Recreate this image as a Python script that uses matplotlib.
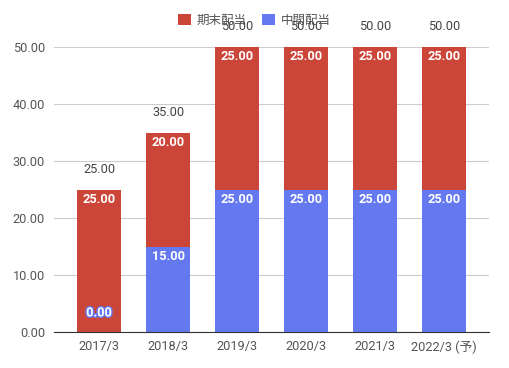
import matplotlib.pyplot as plt
import matplotlib.patheffects as pe
import numpy as np

plt.rcParams['font.family'] = ['Roboto', 'Noto Sans CJK JP', 'DejaVu Sans']

categories = ['2017/3', '2018/3', '2019/3', '2020/3', '2021/3', '2022/3 (予)']
interim = [0, 15, 25, 25, 25, 25]     # 中間配当
year_end = [25, 20, 25, 25, 25, 25]   # 期末配当

red = '#cc4539'
blue = '#6479ef'
gray = '#555555'

fig = plt.figure(figsize=(5.09, 3.68), dpi=100)
ax = fig.add_axes([53.5 / 509, 36 / 368, 436 / 509, 285 / 368])

x = np.arange(len(categories))
totals = [a + b for a, b in zip(interim, year_end)]
w = 0.64
ax.bar(x, interim, width=w, color=blue, label='中間配当', zorder=2)
ax.bar(x, year_end, width=w, bottom=interim, color=red, label='期末配当', zorder=2)

fs = 9.2
for i in range(len(x)):
    # 中間配当 label
    if interim[i] == 0:
        ax.annotate('%.2f' % interim[i], xy=(x[i], 0), xytext=(0, 19), textcoords='offset pixels',
                    ha='center', va='center', fontsize=fs, color='white', fontweight='bold',
                    path_effects=[pe.withStroke(linewidth=2, foreground=blue)], zorder=4)
    else:
        ax.annotate('%.2f' % interim[i], xy=(x[i], interim[i]), xytext=(0, -10), textcoords='offset pixels',
                    ha='center', va='center', fontsize=fs, color='white', fontweight='bold', zorder=4)
    # 期末配当 label
    ax.annotate('%.2f' % year_end[i], xy=(x[i], totals[i]), xytext=(0, -10), textcoords='offset pixels',
                ha='center', va='center', fontsize=fs, color='white', fontweight='bold', zorder=4)
    # total
    ax.annotate('%.2f' % totals[i], xy=(x[i], totals[i]), xytext=(0, 20), textcoords='offset pixels',
                ha='center', va='center', fontsize=fs, color='#444444', annotation_clip=False, zorder=4)

ax.set_xlim(-0.66, len(x) - 1 + 0.66)
ax.set_ylim(0, 50)
ax.set_yticks(np.arange(0, 51, 10))
ax.set_yticklabels(['%.2f' % v for v in np.arange(0, 51, 10)])
ax.set_xticks(x)
ax.set_xticklabels(categories)
ax.tick_params(axis='both', length=0, labelsize=fs, labelcolor=gray, pad=6)
ax.grid(axis='y', color='#cccccc', linewidth=0.8, zorder=0)
for s in ['top', 'right', 'left']:
    ax.spines[s].set_visible(False)
ax.spines['bottom'].set_color('#333333')
ax.spines['bottom'].set_zorder(3)

handles, labels = ax.get_legend_handles_labels()
fig.legend(handles[::-1], labels[::-1], loc='center', bbox_to_anchor=(0.5, 1 - 20 / 368), ncol=2,
           frameon=False, fontsize=9, handlelength=1.0, handleheight=1.0, handletextpad=0.5,
           columnspacing=1.2, labelcolor=gray)

fig.savefig('out.png', dpi=100)
